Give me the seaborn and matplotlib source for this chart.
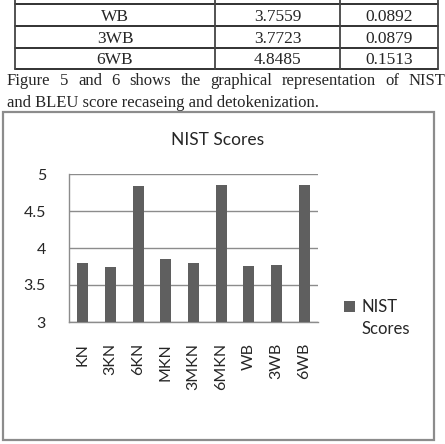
import matplotlib
matplotlib.use("Agg")
import matplotlib.pyplot as plt
from matplotlib.lines import Line2D
from matplotlib.patches import Rectangle
import seaborn as sns

# rows of the table that is cut off at the top of the page
table_systems = ["WB", "3WB", "6WB"]
table_nist = ["3.7559", "3.7723", "4.8485"]
table_bleu = ["0.0892", "0.0879", "0.1513"]

caption_line1 = "Figure 5 and 6 shows the graphical representation of NIST"
caption_line2 = "and BLEU score recaseing and detokenization."

# chart data
systems = ["KN", "3KN", "6KN", "MKN", "3MKN", "6MKN", "WB", "3WB", "6WB"]
nist_scores = [3.80, 3.75, 4.84, 3.85, 3.80, 4.845, 3.7559, 3.7723, 4.8485]
yticks = [3, 3.5, 4, 4.5, 5]
ytick_labels = ["3", "3.5", "4", "4.5", "5"]
chart_title = "NIST Scores"
legend_label = "NIST\nScores"

sns.set_style("white")
plt.rcParams["font.family"] = ["Lato", "DejaVu Sans"]

W, H = 445, 444
fig = plt.figure(figsize=(W / 100, H / 100), dpi=100)
fig.patch.set_facecolor("white")

def fx(x):
    return x / W

def fy(y):
    return 1 - y / H

serif = "Liberation Serif"
grey = "#8c8c8c"

# ---- table fragment ----
for y in [4, 26, 48, 69]:
    fig.add_artist(Line2D([fx(15), fx(438)], [fy(y), fy(y)], color="#222222", lw=1.3))
for x in [15, 215, 340, 438]:
    fig.add_artist(Line2D([fx(x), fx(x)], [fy(0), fy(69)], color="#444444", lw=1.3))
for i, (s, n, b) in enumerate(zip(table_systems, table_nist, table_bleu)):
    base = 21 + i * 21.7
    fig.text(fx(115), fy(base), s, ha="center", va="baseline", fontsize=12.5, family=serif)
    fig.text(fx(277.5), fy(base), n, ha="center", va="baseline", fontsize=12.5, family=serif)
    fig.text(fx(389), fy(base), b, ha="center", va="baseline", fontsize=12.5, family=serif)

# ---- caption, first line justified ----
renderer = fig.canvas.get_renderer()
words = caption_line1.split()
texts = [fig.text(0, fy(85), w, ha="left", va="baseline", fontsize=12, family=serif) for w in words]
widths = [t.get_window_extent(renderer).width for t in texts]
left, last_start = 7, 409
gap = (last_start - left - sum(widths[:-1])) / (len(words) - 1)
x = left
for t, w in zip(texts, widths):
    t.set_x(fx(x))
    x += w + gap
fig.text(fx(7), fy(107), caption_line2, ha="left", va="baseline", fontsize=12, family=serif)

# ---- chart frame ----
fig.add_artist(Rectangle((fx(3), fy(440)), fx(434) - fx(3), fy(112) - fy(440),
                         transform=fig.transFigure, fill=False, ec=grey, lw=1.6))

ax = fig.add_axes([fx(69), fy(322), fx(318) - fx(69), fy(174) - fy(322)])
sns.barplot(x=systems, y=nist_scores, color="#5f5f5f", saturation=1, width=0.4, ax=ax,
            edgecolor="none", linewidth=0, zorder=3)
ax.set_xlim(-0.5, len(systems) - 0.5)
ax.set_ylim(3, 5)
ax.set_yticks(yticks, ytick_labels)
ax.set_xlabel("")
ax.set_ylabel("")
ax.yaxis.grid(True, color=grey, lw=1, zorder=0)
ax.set_axisbelow(True)
for side in ["top", "right"]:
    ax.spines[side].set_visible(False)
for side in ["left", "bottom"]:
    ax.spines[side].set_color(grey)
    ax.spines[side].set_linewidth(1)

ax.tick_params(axis="y", length=7, width=1, color=grey, pad=9.6, labelsize=11.5, labelcolor="#262626")
ax.set_xticks([i - 0.5 for i in range(len(systems) + 1)], minor=True)
ax.tick_params(axis="x", which="major", length=0, pad=15, labelsize=11.5, labelcolor="#262626",
               labelrotation=90)
ax.tick_params(axis="x", which="minor", length=5, width=1, color=grey)

fig.text(fx(218), fy(145), chart_title, ha="center", va="baseline", fontsize=12.5, color="#262626")

leg = ax.legend([ax.patches[0]], [legend_label], loc="upper left",
                bbox_to_anchor=(fx(344), fy(299)), bbox_transform=fig.transFigure,
                frameon=False, fontsize=12, handlelength=0.65, handleheight=0.65,
                handletextpad=0.4, borderpad=0, borderaxespad=0, labelcolor="#262626")
for t in leg.get_texts():
    t.set_linespacing(1.5)
# Excel keeps the marker level with the first line of the label
handle = leg.legend_handles[0]
handle.set_y(handle.get_y() + 9)

fig.savefig("out.png", dpi=100)
